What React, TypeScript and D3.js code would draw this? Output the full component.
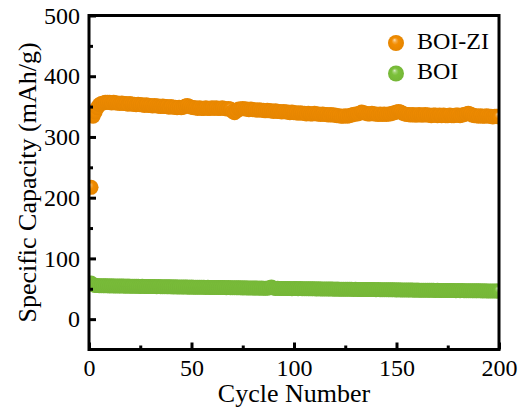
import React, { useRef, useEffect } from "react";
import * as d3 from "d3";

// BOI-ZI specific capacity (mAh/g), cycles 1..200
const boiZi = [
  217, 334, 341, 348, 353, 355, 356, 357, 357, 357,
  356, 357, 356, 356, 355, 356, 355, 355, 354, 355,
  354, 354, 353, 354, 353, 353, 352, 353, 352, 352,
  351, 352, 351, 351, 350, 351, 350, 350, 349, 350,
  349, 349, 348, 349, 348, 349, 351, 352, 350, 349,
  348, 348, 347, 348, 347, 347, 348, 347, 347, 348,
  347, 348, 347, 347, 348, 347, 346, 347, 346, 342,
  340, 343, 346, 346, 347, 346, 346, 345, 346, 345,
  345, 344, 345, 344, 344, 343, 344, 343, 343, 342,
  343, 342, 342, 341, 342, 341, 341, 340, 341, 340,
  340, 339, 340, 339, 339, 338, 339, 338, 338, 339,
  338, 338, 337, 338, 337, 337, 336, 337, 336, 336,
  335, 335, 334, 334, 335, 334, 335, 336, 337, 338,
  338, 339, 341, 340, 339, 338, 338, 339, 338, 338,
  337, 338, 337, 338, 337, 338, 338, 339, 340, 341,
  342, 341, 339, 338, 337, 337, 336, 337, 336, 336,
  337, 336, 336, 337, 336, 336, 335, 336, 336, 335,
  336, 335, 336, 335, 335, 336, 335, 335, 336, 336,
  335, 336, 337, 338, 339, 338, 336, 335, 335, 334,
  335, 334, 334, 335, 334, 334, 333, 334, 334, 333,
];

// BOI specific capacity (mAh/g), cycles 1..200
const boi = [
  59.5, 56.5, 55.5, 55.2, 55.0, 55.1, 54.9, 54.8, 54.9, 54.7,
  54.8, 54.6, 54.7, 54.5, 54.6, 54.4, 54.5, 54.3, 54.4, 54.2,
  54.3, 54.1, 54.2, 54.0, 53.9, 54.0, 53.8, 53.9, 53.7, 53.8,
  53.6, 53.7, 53.5, 53.6, 53.4, 53.5, 53.3, 53.4, 53.2, 53.3,
  53.1, 53.2, 53.0, 53.1, 52.9, 53.0, 52.8, 52.9, 52.7, 52.8,
  52.6, 52.7, 52.5, 52.6, 52.4, 52.5, 52.3, 52.4, 52.2, 52.3,
  52.1, 52.2, 52.0, 52.1, 51.9, 52.0, 51.8, 51.9, 51.7, 51.8,
  51.6, 51.7, 51.5, 51.6, 51.4, 51.5, 51.3, 51.4, 51.2, 51.3,
  51.1, 51.2, 51.0, 51.1, 50.9, 51.0, 50.8, 51.5, 52.8, 51.2,
  50.6, 50.7, 50.5, 50.6, 50.4, 50.5, 50.3, 50.4, 50.2, 50.3,
  50.3, 50.2, 50.3, 50.1, 50.2, 50.0, 50.1, 49.9, 50.0, 49.9,
  49.8, 49.9, 49.7, 49.8, 49.6, 49.7, 49.6, 49.5, 49.6, 49.4,
  49.5, 49.3, 49.4, 49.2, 49.3, 49.2, 49.1, 49.2, 49.0, 49.1,
  48.9, 49.0, 48.8, 48.9, 48.8, 48.7, 48.8, 48.6, 48.7, 48.5,
  48.6, 48.5, 48.4, 48.5, 48.3, 48.4, 48.2, 48.3, 48.2, 48.1,
  48.2, 48.0, 48.1, 47.9, 48.0, 47.9, 47.8, 47.9, 47.7, 47.8,
  47.7, 47.6, 47.7, 47.5, 47.6, 47.5, 47.4, 47.5, 47.3, 47.4,
  47.3, 47.2, 47.3, 47.1, 47.2, 47.1, 47.0, 47.1, 46.9, 47.0,
  46.9, 47.0, 46.8, 46.9, 46.8, 46.7, 46.8, 46.6, 46.7, 46.6,
  46.7, 46.5, 46.6, 46.5, 46.4, 46.5, 46.3, 46.4, 46.3, 46.2,
];

const xTicks = [0, 50, 100, 150, 200];
const xMinor = [25, 75, 125, 175];
const yTicks = [0, 100, 200, 300, 400, 500];
const yMinor = [50, 150, 250, 350, 450];

const series = [
  { name: "BOI-ZI", values: boiZi, color: "#f28c00", id: "gOrange" },
  { name: "BOI", values: boi, color: "#7bc03a", id: "gGreen" },
];

const WIDTH = 522;
const HEIGHT = 414;
const FONT = "'Liberation Serif', 'Times New Roman', serif";

const CycleChart = () => {
  const ref = useRef<SVGSVGElement>(null);

  useEffect(() => {
    const svgEl = ref.current;
    if (!svgEl) return;
    const svg = d3.select(svgEl);
    svg.selectChildren().remove();

    const left = 89, right = 499, top = 15.5, bottom = 349.5;

    const x = d3.scaleLinear().domain([0, 200]).range([left, right]);
    const y = d3.scaleLinear().domain([-50, 500]).range([bottom, top]);

    const defs = svg.append("defs");
    defs
      .append("clipPath")
      .attr("id", "plotClip")
      .append("rect")
      .attr("x", left)
      .attr("y", top)
      .attr("width", right - left)
      .attr("height", bottom - top);

    // gradients for the glossy spheres
    series.forEach((s) => {
      const light = d3.interpolateRgb(s.color, "#ffffff");
      const g = defs
        .append("radialGradient")
        .attr("id", s.id)
        .attr("cx", "50%")
        .attr("cy", "50%")
        .attr("r", "50%")
        .attr("fx", "40%")
        .attr("fy", "30%");
      g.append("stop").attr("offset", "0%").attr("stop-color", light(0.75));
      g.append("stop").attr("offset", "22%").attr("stop-color", light(0.25));
      g.append("stop").attr("offset", "45%").attr("stop-color", s.color);
      g.append("stop").attr("offset", "100%").attr("stop-color", d3.color(s.color)!.darker(0.15).toString());
    });

    // data points
    const plot = svg.append("g").attr("clip-path", "url(#plotClip)");
    series.forEach((s) => {
      plot
        .append("g")
        .selectAll("circle")
        .data(s.values)
        .enter()
        .append("circle")
        .attr("cx", (_, i) => x(i + 1))
        .attr("cy", (d) => y(d))
        .attr("r", 7.5)
        .attr("fill", `url(#${s.id})`);
    });

    // axes
    const styleAxis = (g: any) => {
      g.select(".domain").remove();
      g.selectAll("line").attr("stroke", "#000").attr("stroke-width", 3);
      g.selectAll("text")
        .attr("fill", "#000")
        .style("font-family", FONT)
        .style("font-size", "24px");
    };

    svg
      .append("g")
      .attr("transform", `translate(0,${bottom})`)
      .call(d3.axisBottom(x).tickValues(xTicks).tickSize(-7).tickPadding(9).tickFormat(d3.format("d")))
      .call(styleAxis);
    svg
      .append("g")
      .attr("transform", `translate(0,${bottom})`)
      .call(d3.axisBottom(x).tickValues(xMinor).tickSize(-4).tickFormat(() => ""))
      .call(styleAxis);
    svg
      .append("g")
      .attr("transform", `translate(${left},0)`)
      .call(d3.axisLeft(y).tickValues(yTicks).tickSize(-7).tickPadding(9).tickFormat(d3.format("d")))
      .call(styleAxis);
    svg
      .append("g")
      .attr("transform", `translate(${left},0)`)
      .call(d3.axisLeft(y).tickValues(yMinor).tickSize(-4).tickFormat(() => ""))
      .call(styleAxis);

    // frame
    svg
      .append("rect")
      .attr("x", left)
      .attr("y", top)
      .attr("width", right - left)
      .attr("height", bottom - top)
      .attr("fill", "none")
      .attr("stroke", "#000")
      .attr("stroke-width", 3);

    // axis titles
    svg
      .append("text")
      .attr("x", (left + right) / 2)
      .attr("y", 402)
      .attr("text-anchor", "middle")
      .style("font-family", FONT)
      .style("font-size", "26px")
      .text("Cycle Number");
    svg
      .append("text")
      .attr("transform", `translate(36,${(top + bottom) / 2}) rotate(-90)`)
      .attr("text-anchor", "middle")
      .style("font-family", FONT)
      .style("font-size", "26px")
      .text("Specific Capacity (mAh/g)");

    // legend
    const legend = svg
      .append("g")
      .selectAll("g")
      .data(series)
      .enter()
      .append("g")
      .attr("transform", (_, i) => `translate(396,${43 + i * 30.5})`);
    legend.append("circle").attr("r", 8).attr("fill", (d) => `url(#${d.id})`);
    legend
      .append("text")
      .attr("x", 21)
      .attr("y", 5.5)
      .style("font-family", FONT)
      .style("font-size", "24px")
      .text((d) => d.name);
  }, []);

  return (
    <svg
      ref={ref}
      width={WIDTH}
      height={HEIGHT}
      style={{ position: "absolute", left: 0, top: 0, background: "#fff" }}
    />
  );
};

export default function App() {
  return <CycleChart />;
}
